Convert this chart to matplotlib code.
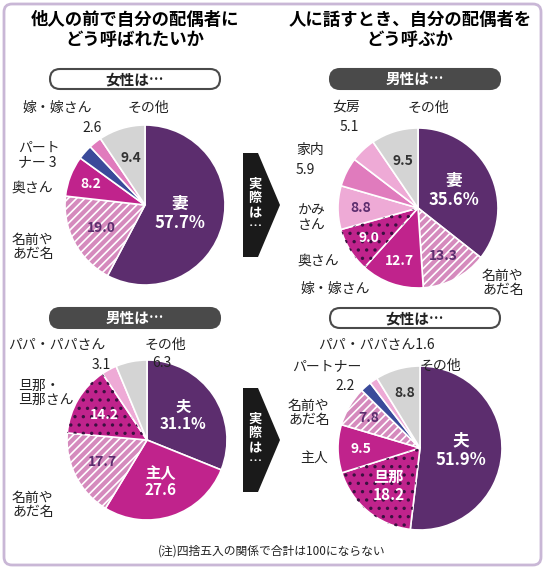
import numpy as np
import matplotlib
matplotlib.use("Agg")
import matplotlib.pyplot as plt
from matplotlib.patches import FancyBboxPatch, Polygon

plt.rcParams["font.family"] = ["Noto Sans CJK JP", "DejaVu Sans"]
plt.rcParams["hatch.linewidth"] = 1.2

W, H = 545, 569

PURPLE = "#5c2d6e"
MAGENTA = "#c0238c"
HATCHPINK = "#d58abd"
PINK = "#e07bbd"
LIGHTPINK = "#eeaad6"
NAVY = "#3a4a9a"
GRAY = "#d4d4d4"

# --- data ---
tl_labels = ["妻", "名前やあだ名", "奥さん", "パートナー", "嫁・嫁さん", "その他"]
tl_values = [57.7, 19.0, 8.2, 3.0, 2.6, 9.4]
tl_colors = [PURPLE, HATCHPINK, MAGENTA, NAVY, PINK, GRAY]
tl_hatch = [None, "////", None, None, None, None]

tr_labels = ["妻", "名前やあだ名", "嫁・嫁さん", "奥さん", "かみさん", "家内", "女房", "その他"]
tr_values = [35.6, 13.3, 12.7, 9.0, 8.8, 5.9, 5.1, 9.5]
tr_colors = [PURPLE, HATCHPINK, MAGENTA, MAGENTA, LIGHTPINK, PINK, LIGHTPINK, GRAY]
tr_hatch = [None, "////", None, "..", None, None, None, None]

bl_labels = ["夫", "主人", "名前やあだ名", "旦那・旦那さん", "パパ・パパさん", "その他"]
bl_values = [31.1, 27.6, 17.7, 14.2, 3.1, 6.3]
bl_colors = [PURPLE, MAGENTA, HATCHPINK, MAGENTA, LIGHTPINK, GRAY]
bl_hatch = [None, None, "////", "..", None, None]

br_labels = ["夫", "旦那", "主人", "名前やあだ名", "パートナー", "パパ・パパさん", "その他"]
br_values = [51.9, 18.2, 9.5, 7.8, 2.2, 1.6, 8.8]
br_colors = [PURPLE, MAGENTA, MAGENTA, HATCHPINK, NAVY, LIGHTPINK, GRAY]
br_hatch = [None, "..", None, "////", None, None, None]

fig = plt.figure(figsize=(W / 100, H / 100), dpi=100)
fig.patch.set_facecolor("white")
bg = fig.add_axes([0, 0, 1, 1])
bg.set_xlim(0, W)
bg.set_ylim(H, 0)
bg.axis("off")
bg.add_patch(FancyBboxPatch((4, 4), W - 8, H - 8, boxstyle="round,pad=0,rounding_size=8",
                            fc="white", ec="#c9b7d6", lw=2))


def pie(cx, cy, r, values, colors, hatches, inner):
    ax = fig.add_axes([(cx - r) / W, 1 - (cy + r) / H, 2 * r / W, 2 * r / H])
    wedges, _ = ax.pie(values, colors=colors, startangle=90, counterclock=False,
                       wedgeprops=dict(edgecolor="white", linewidth=1.2))
    # overlay hatch wedges
    over, _ = ax.pie(values, colors=["none"] * len(values), startangle=90, counterclock=False,
                     wedgeprops=dict(linewidth=0))
    for w, h in zip(over, hatches):
        if h:
            w.set_hatch(h)
            w.set_edgecolor("white" if h == "////" else "#3b1040")
        else:
            w.set_visible(False)
    ax.set_xlim(-1, 1)
    ax.set_ylim(-1, 1)
    for i, (txt, rad, fs, col) in inner.items():
        w = wedges[i]
        ang = np.deg2rad((w.theta1 + w.theta2) / 2)
        ax.text(rad * np.cos(ang), rad * np.sin(ang), txt, ha="center", va="center",
                fontsize=fs, fontweight="bold", color=col, linespacing=1.1)
    return ax


DK = "#333"
pie(145, 205, 80, tl_values, tl_colors, tl_hatch,
    {0: ("妻\n57.7%", 0.45, 12, "white"), 1: ("19.0", 0.62, 10, PURPLE),
     2: ("8.2", 0.72, 10, "white"), 5: ("9.4", 0.62, 10, DK)})
pie(418, 208, 80, tr_values, tr_colors, tr_hatch,
    {0: ("妻\n35.6%", 0.5, 12, "white"), 1: ("13.3", 0.68, 10, PURPLE),
     2: ("12.7", 0.7, 10, "white"), 3: ("9.0", 0.72, 10, "white"),
     4: ("8.8", 0.72, 10, PURPLE), 7: ("9.5", 0.62, 10, DK)})
pie(147, 440, 80, bl_values, bl_colors, bl_hatch,
    {0: ("夫\n31.1%", 0.55, 11, "white"), 1: ("主人\n27.6", 0.55, 11, "white"),
     2: ("17.7", 0.62, 10, PURPLE), 3: ("14.2", 0.62, 10, "white")})
pie(420, 448, 82, br_values, br_colors, br_hatch,
    {0: ("夫\n51.9%", 0.5, 12, "white"), 1: ("旦那\n18.2", 0.6, 11, "white"),
     2: ("9.5", 0.72, 10, "white"), 3: ("7.8", 0.72, 10, PURPLE),
     6: ("8.8", 0.7, 10, DK)})

ov = fig.add_axes([0, 0, 1, 1])
ov.set_xlim(0, W)
ov.set_ylim(H, 0)
ov.axis("off")
ov.patch.set_alpha(0)

ov.text(135, 30, "他人の前で自分の配偶者に\nどう呼ばれたいか", ha="center", va="center",
        fontsize=12.5, fontweight="bold", linespacing=1.1)
ov.text(410, 30, "人に話すとき、自分の配偶者を\nどう呼ぶか", ha="center", va="center",
        fontsize=12.5, fontweight="bold", linespacing=1.1)


def pill(x, y, w, txt, dark):
    ov.add_patch(FancyBboxPatch((x - w / 2, y - 10), w, 20, boxstyle="round,pad=0,rounding_size=10",
                                fc="#4a4a4a" if dark else "white", ec="#4a4a4a", lw=1.5))
    ov.text(x, y, txt, ha="center", va="center", fontsize=10.5, fontweight="bold",
            color="white" if dark else "#222")


pill(135, 79, 170, "女性は…", False)
pill(415, 79, 170, "男性は…", True)
pill(135, 318, 170, "男性は…", True)
pill(415, 318, 170, "女性は…", False)

for cy in (205, 440):
    ov.add_patch(Polygon([(243, cy - 52), (258, cy - 52), (280, cy), (258, cy + 52), (243, cy + 52)],
                         closed=True, fc="#1a1a1a", ec="none"))
    ov.text(255, cy, "実\n際\nは\n…", ha="center", va="center", fontsize=9.5,
            fontweight="bold", color="white", linespacing=1.0)

kw = dict(fontsize=10, color="#222", va="center", linespacing=1.05)
ov.text(22, 108, "嫁・嫁さん", **kw)
ov.text(92, 128, "2.6", ha="center", **kw)
ov.text(18, 155, "パート\nナー 3", **kw)
ov.text(12, 188, "奥さん", **kw)
ov.text(12, 247, "名前や\nあだ名", **kw)
ov.text(128, 108, "その他", **kw)

ov.text(332, 107, "女房", **kw)
ov.text(340, 127, "5.1", **kw)
ov.text(408, 108, "その他", **kw)
ov.text(296, 150, "家内", **kw)
ov.text(296, 170, "5.9", **kw)
ov.text(298, 218, "かみ\nさん", **kw)
ov.text(298, 261, "奥さん", **kw)
ov.text(300, 289, "嫁・嫁さん", **kw)
ov.text(482, 283, "名前や\nあだ名", **kw)

ov.text(8, 345, "パパ・パパさん", **kw)
ov.text(92, 365, "3.1", **kw)
ov.text(145, 345, "その他", **kw)
ov.text(152, 363, "6.3", **kw)
ov.text(18, 393, "旦那・\n旦那さん", **kw)
ov.text(12, 505, "名前や\nあだ名", **kw)

ov.text(318, 345, "パパ・パパさん1.6", **kw)
ov.text(292, 366, "パートナー", **kw)
ov.text(335, 386, "2.2", **kw)
ov.text(288, 413, "名前や\nあだ名", **kw)
ov.text(300, 458, "主人", **kw)
ov.text(420, 366, "その他", **kw)

ov.text(272, 551, "(注)四捨五入の関係で合計は100にならない", ha="center", va="center",
        fontsize=8.5, color="#222")

fig.savefig("out.png", dpi=100, facecolor="white")
